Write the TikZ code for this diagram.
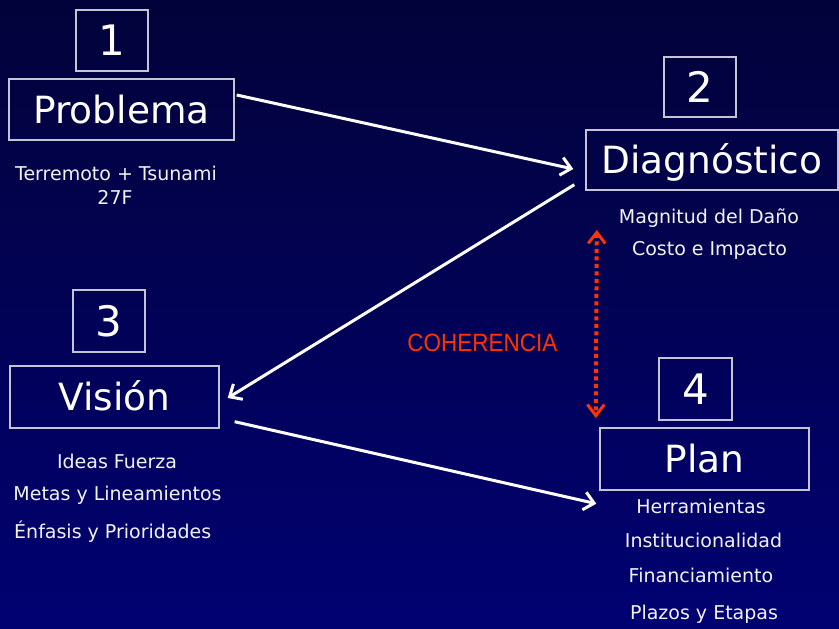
\documentclass[tikz,border=0pt]{standalone}
\usepackage{fontspec}
\setmainfont{DejaVu Sans}
\newfontfamily\cohfont{Liberation Sans}
\usetikzlibrary{arrows.meta,calc}
\definecolor{bgtop}{HTML}{02023A}
\definecolor{bgbot}{HTML}{010172}
\definecolor{boxline}{HTML}{C4C4D4}
\definecolor{txt}{HTML}{F2F2F6}
\definecolor{cohred}{HTML}{FF3300}
\begin{document}
\begin{tikzpicture}[x=1pt,y=-1pt,
  numbox/.style={draw=boxline,line width=1.4pt,inner sep=0pt,text=white,
    font=\fontsize{42}{42}\selectfont,text height=30.5pt,text depth=0pt},
  bigbox/.style={draw=boxline,line width=1.4pt,inner sep=0pt,text=white,
    font=\fontsize{37.5}{37.5}\selectfont,text height=27pt,text depth=0pt},
  small/.style={text=txt,inner sep=0pt,anchor=base,font=\fontsize{19}{19}\selectfont},
  flow/.style={draw=white,line width=3pt,-{Straight Barb[length=10pt,width=18pt,line width=3pt]}},
  coh/.style={draw=cohred,line width=4pt,dash pattern=on 4pt off 3.5pt,
    {Straight Barb[length=11pt,width=17pt,line width=3pt]}-{Straight Barb[length=11pt,width=17pt,line width=3pt]}}]
\shade[top color=bgtop,bottom color=bgbot] (0,0) rectangle (839,629);
\useasboundingbox (0,0) rectangle (839,629);
% boxes
\node[numbox,minimum width=72pt,minimum height=61pt] (n1) at (112,40.5) {1};
\node[bigbox,minimum width=225pt,minimum height=61pt] (prob) at (121.5,109.5) {Problema};
\node[numbox,minimum width=72pt,minimum height=60pt] (n2) at (700,87) {2};
\node[bigbox,minimum width=252pt,minimum height=60pt] (diag) at (712,160) {Diagnóstico};
\node[numbox,minimum width=72pt,minimum height=62pt] (n3) at (109,321) {3};
\node[bigbox,minimum width=209pt,minimum height=62pt] (vis) at (114.5,397) {Visión};
\node[numbox,minimum width=73pt,minimum height=62pt] (n4) at (695.5,389) {4};
\node[bigbox,minimum width=209pt,minimum height=62pt] (plan) at (704.5,459) {Plan};
% small texts
\node[small] (t1) at (116,180) {Terremoto + Tsunami};
\node[small] (t2) at (115,204) {27F};
\node[small] (d1) at (709,223) {Magnitud del Daño};
\node[small] (d2) at (709.5,255) {Costo e Impacto};
\node[small] (v1) at (117,468) {Ideas Fuerza};
\node[small] (v2) at (117.5,500) {Metas y Lineamientos};
\node[small,anchor=base west] (v3) at (14,538) {Énfasis y Prioridades};
\node[small] (p1) at (701,513) {Herramientas};
\node[small] (p2) at (703.5,547) {Institucionalidad};
\node[small] (p3) at (701,582) {Financiamiento};
\node[small] (p4) at (704,619) {Plazos y Etapas};
\node[text=cohred,inner sep=0pt,anchor=base,font=\cohfont\fontsize{25}{25}\selectfont] (coh) at (482.5,351) {\scalebox{0.9}[1]{COHERENCIA}};
% connectors
\coordinate (a1s) at ([shift={(2,-14.5)}]prob.east);
\coordinate (a1e) at ([shift={(-12,9)}]diag.west);
\coordinate (a2s) at ([shift={(-11,-6)}]diag.south west);
\coordinate (a2e) at ([shift={(8,1)}]vis.east);
\coordinate (a3s) at ([shift={(15,-7)}]vis.south east);
\coordinate (a3e) at ([shift={(-3,13)}]plan.south west);
\draw[flow] (a1s) -- (a1e);
\draw[flow] (a2s) -- (a2e);
\draw[flow] (a3s) -- (a3e);
\coordinate (c1) at ($(d2.base west)+(-35,-25)$);
\coordinate (c2) at ($(n4.west)+(-62.5,29)$);
\draw[coh] (c1) -- (c2);
\end{tikzpicture}
\end{document}
